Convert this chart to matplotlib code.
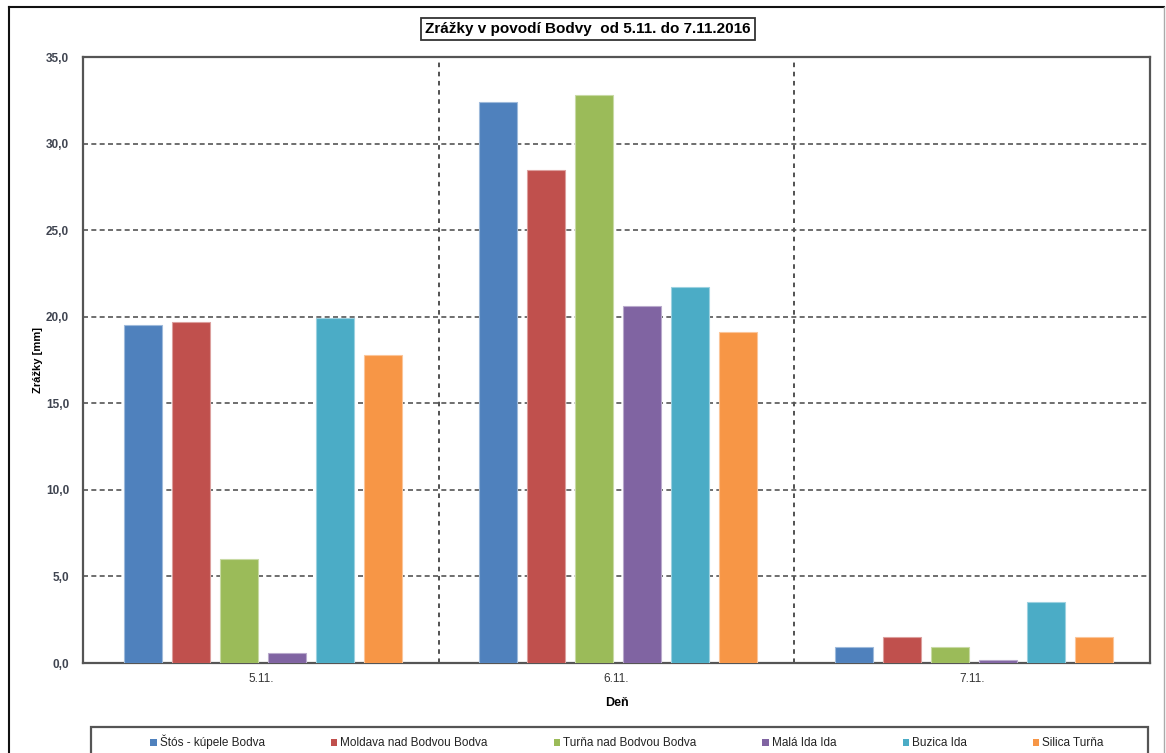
import numpy as np
import matplotlib
matplotlib.use("Agg")
import matplotlib.pyplot as plt
from matplotlib.patches import Rectangle, Patch
from matplotlib.lines import Line2D
from matplotlib.ticker import FuncFormatter, MultipleLocator
from matplotlib import colors as mcolors

plt.rcParams['font.family'] = ['Liberation Sans', 'DejaVu Sans']

# data
days = ['5.11.', '6.11.', '7.11.']
stations = ['Štós - kúpele Bodva', 'Moldava nad Bodvou Bodva', 'Turňa nad Bodvou Bodva',
            'Malá Ida Ida', 'Buzica Ida', 'Silica Turňa']
stos = [19.5, 32.4, 0.9]
moldava = [19.7, 28.5, 1.5]
turna = [6.0, 32.8, 0.9]
mala_ida = [0.6, 20.6, 0.2]
buzica = [19.9, 21.7, 3.5]
silica = [17.8, 19.1, 1.5]
series = [stos, moldava, turna, mala_ida, buzica, silica]
bar_colors = ['#4F81BD', '#C0504D', '#9BBB59', '#8064A2', '#4BACC6', '#F79646']

W, H = 1166, 753
fig = plt.figure(figsize=(W / 100, H / 100), dpi=100)
ax = fig.add_axes([83 / W, 1 - 663 / H, (1150 - 83) / W, (663 - 57) / H])

x = np.arange(len(days))
pitch = 0.135
bw = 0.107
for i, (vals, c) in enumerate(zip(series, bar_colors)):
    edge = np.array(mcolors.to_rgb(c)) * 0.55 + 0.45
    ax.bar(x + (i - 2.5) * pitch + 0.005, vals, width=bw, color=c, edgecolor=edge,
           linewidth=0.8, label=stations[i], zorder=3)

ax.set_xlim(-0.5, 2.5)
ax.set_ylim(0, 35)
ax.yaxis.set_major_locator(MultipleLocator(5))
ax.yaxis.set_major_formatter(FuncFormatter(lambda v, p: f"{v:.1f}".replace('.', ',')))
ax.set_xticks(x)
ax.set_xticklabels(days)
ax.tick_params(axis='y', length=0, labelsize=8.5, pad=10)
ax.tick_params(axis='x', length=0, labelsize=8.5, colors='#333333', pad=7)
for lab in ax.get_yticklabels():
    lab.set_fontweight('bold')
    lab.set_color('#3f4450')

ax.yaxis.grid(True, linestyle=(0, (3, 2)), color='#555555', linewidth=1.2, zorder=0)
for d in [0.5, 1.5]:
    ax.axvline(d, color='#222222', linestyle=(0, (3, 3)), linewidth=1.1, zorder=1)

for s in ax.spines.values():
    s.set_color('#555555')
    s.set_linewidth(1.6)

ax.set_ylabel('Zrážky [mm]', fontsize=8, fontweight='bold', labelpad=2)
ax.set_xlabel('Deň', fontsize=9, fontweight='bold', labelpad=9)

# title in a box
fig.text(588 / W, 1 - 29 / H, 'Zrážky v povodí Bodvy  od 5.11. do 7.11.2016',
         ha='center', va='center', fontsize=11, fontweight='bold',
         bbox=dict(boxstyle='square,pad=0.25', facecolor='white', edgecolor='#333333', linewidth=1.3))

# outer frame
fig.add_artist(Line2D([9 / W, 9 / W], [0, 1 - 7 / H], color='#111111', linewidth=1.5))
fig.add_artist(Line2D([9 / W, 1164 / W], [1 - 7 / H, 1 - 7 / H], color='#111111', linewidth=1.5))
fig.add_artist(Line2D([1164 / W, 1164 / W], [0, 1 - 7 / H], color='#aaaaaa', linewidth=1.0))

# legend box
fig.add_artist(Rectangle((91 / W, -0.05), (1148 - 91) / W, 0.05 + 1 - 727 / H,
                         transform=fig.transFigure, facecolor='white',
                         edgecolor='#555555', linewidth=1.6))
handles = [Patch(facecolor=c, edgecolor='none') for c in bar_colors]
leg = fig.legend(handles, stations, loc='center', bbox_to_anchor=(627 / W, 1 - 742 / H),
                 ncol=6, frameon=False, fontsize=8.5, handlelength=0.55, handleheight=0.55,
                 handletextpad=0.25, columnspacing=5.6, borderaxespad=0)
for t in leg.get_texts():
    t.set_color('#222222')

fig.savefig('out.png', dpi=100)
